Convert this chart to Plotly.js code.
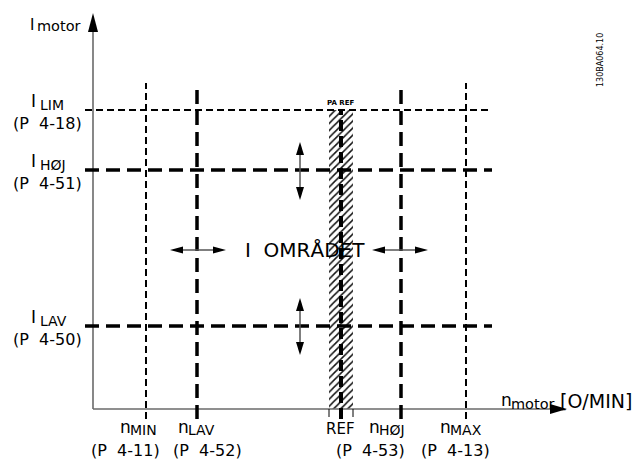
<!DOCTYPE html>
<html>
<head>
<meta charset="utf-8">
<script src="https://cdn.plot.ly/plotly-3.0.1.min.js"></script>
<style>html,body{margin:0;padding:0;background:#fff;}#chart{width:640px;height:462px;}</style>
</head>
<body>
<div id="chart"></div>
<script>
// ---- data (schematic units; origin at the axes' crossing) ----
const currentNames  = ['LIM', 'HØJ', 'LAV'];
const currentParams = ['(P\u00A0\u00A04-18)', '(P\u00A0\u00A04-51)', '(P\u00A0\u00A04-50)'];
const currentLevels = [299, 239, 83];
const currentKinds  = ['fine', 'bold', 'bold'];

const speedNames  = ['MIN', 'LAV', 'REF', 'HØJ', 'MAX'];
const speedParams = ['(P\u00A0\u00A04-11)', '(P\u00A0\u00A04-52)', '', '(P\u00A0\u00A04-53)', '(P\u00A0\u00A04-13)'];
const speedLevels = [53, 104, 248, 308, 373];
const speedKinds  = ['fine', 'bold', 'ref', 'bold', 'fine'];

const refBand = [236, 260];   // band around REF
const rangeText = 'I\u00A0\u00A0OMRÅDET';

// ---- styles / layout ----
const FONT = 'DejaVu Sans, Liberation Sans, sans-serif';
const dashStyles = {
  fine: {width: 2,   dash: '7px,4px',  color: '#000'},
  bold: {width: 3.5, dash: '14px,7px', color: '#000'},
  ref:  {width: 4,   dash: '11px,5px', color: '#000'}
};
const hLineExtent = [-8, 399];
const vLineExtent = [-10, 326];
const axisEnds = {x: 457, xTip: 474, y: 377, yTip: 396};

const shapes = [];
const annotations = [];

function line(x0, y0, x1, y1, st, layer) {
  shapes.push({type: 'line', xref: 'x', yref: 'y', x0, y0, x1, y1,
    line: Object.assign({}, st), layer: layer || 'above'});
}
function head(tx, ty, dx, dy, len, hw) {
  const bx = tx - dx * len, by = ty - dy * len;
  const px = -dy * hw, py = dx * hw;
  shapes.push({type: 'path', xref: 'x', yref: 'y',
    path: `M${tx},${ty} L${bx + px},${by + py} L${bx - px},${by - py} Z`,
    fillcolor: '#000', line: {width: 0}, layer: 'above'});
}
function text(x, y, t, size, extra) {
  annotations.push(Object.assign({x, y, xref: 'x', yref: 'y', text: t, showarrow: false,
    xanchor: 'center', yanchor: 'middle', borderpad: 0,
    font: {family: FONT, size: size, color: '#000'}}, extra || {}));
}
// letter + lowered subscript drawn as two texts
function subLabel(xMainRight, yMain, main, sub, mainSize, subSize, gap, drop) {
  text(xMainRight, yMain, main, mainSize, {xanchor: 'right'});
  text(xMainRight + gap, yMain - drop, sub, subSize, {xanchor: 'left'});
}

// axes with arrow heads
const axisStyle = {width: 1.6, color: '#6a6a6a'};
line(0, 0, 0, axisEnds.y, axisStyle);
line(0, 0, axisEnds.x, 0, axisStyle);
head(0, axisEnds.yTip, 0, 1, 19, 5);
head(axisEnds.xTip, 0, 1, 0, 17, 5);

// horizontal current levels
currentLevels.forEach((lv, i) => {
  line(hLineExtent[0], lv, hLineExtent[1], lv, dashStyles[currentKinds[i]]);
  subLabel(-56, lv + 9, 'I', currentNames[i], 17, 14, 2, 4);
  text(-46, lv - 13, currentParams[i], 16);
});

// vertical speed levels
const nameLeft   = [-24, -17, 0, -30, -24];
const paramShift = [-21, 10, 0, -31, -11];
speedLevels.forEach((lv, i) => {
  const k = speedKinds[i];
  const top = k === 'ref' ? currentLevels[0] - 1 : vLineExtent[1];
  line(lv, vLineExtent[0], lv, top, dashStyles[k]);
  if (k === 'ref') {
    text(lv - 1, -20, 'REF', 15);
  } else {
    subLabel(lv + nameLeft[i] + 10, -18, 'n', speedNames[i], 17, 14, -3, 3);
    text(lv + paramShift[i], -41, speedParams[i], 16);
  }
});

// band edge ticks below axis
refBand.forEach(b => line(b, 0, b, -8, {width: 1, color: '#000'}));
text(speedLevels[2], currentLevels[0] + 7, 'PA REF', 7, {font: {family: FONT, size: 7, color: '#000', weight: 'bold'}});

// double arrows
const arrowStyle = {width: 1.5, color: '#555'};
const midY = 159;
[[77, 133], [279, 335]].forEach(([a, b]) => {
  line(a + 8, midY, b - 8, midY, arrowStyle);
  head(a, midY, -1, 0, 13, 3.5);
  head(b, midY, 1, 0, 13, 3.5);
});
const arrX = 207;
[[209, 267], [54, 111]].forEach(([a, b]) => {
  line(arrX, a + 8, arrX, b - 8, arrowStyle);
  head(arrX, a, 0, -1, 13, 4);
  head(arrX, b, 0, 1, 13, 4);
});

text(212, midY, rangeText, 20);

// axis titles
subLabel(-58, 384, 'I', 'motor', 15, 14.5, 1, 1);
subLabel(420, 9, 'n', 'motor', 17, 14.5, -3, 4);
text(466, 8, '[O/MIN]', 19, {xanchor: 'left'});
text(507, 349, '130BA064.10', 8, {textangle: -90});

// hatched REF band drawn as a bar
const traces = [{
  type: 'bar', x: [(refBand[0] + refBand[1]) / 2], y: [currentLevels[0]],
  width: [refBand[1] - refBand[0]], base: [0],
  marker: {color: '#fff', line: {width: 0},
    pattern: {shape: '/', size: 5, solidity: 0.3, fgcolor: '#111', bgcolor: '#fff'}},
  hoverinfo: 'skip'
}];

const layout = {
  width: 640, height: 462,
  margin: {l: 0, r: 0, t: 0, b: 0},
  paper_bgcolor: '#fff', plot_bgcolor: '#fff',
  showlegend: false,
  xaxis: {range: [-93, 547], visible: false, fixedrange: true},
  yaxis: {range: [-53, 409], visible: false, fixedrange: true},
  shapes, annotations
};
Plotly.newPlot('chart', traces, layout, {displayModeBar: false, staticPlot: true});
</script>
</body>
</html>
